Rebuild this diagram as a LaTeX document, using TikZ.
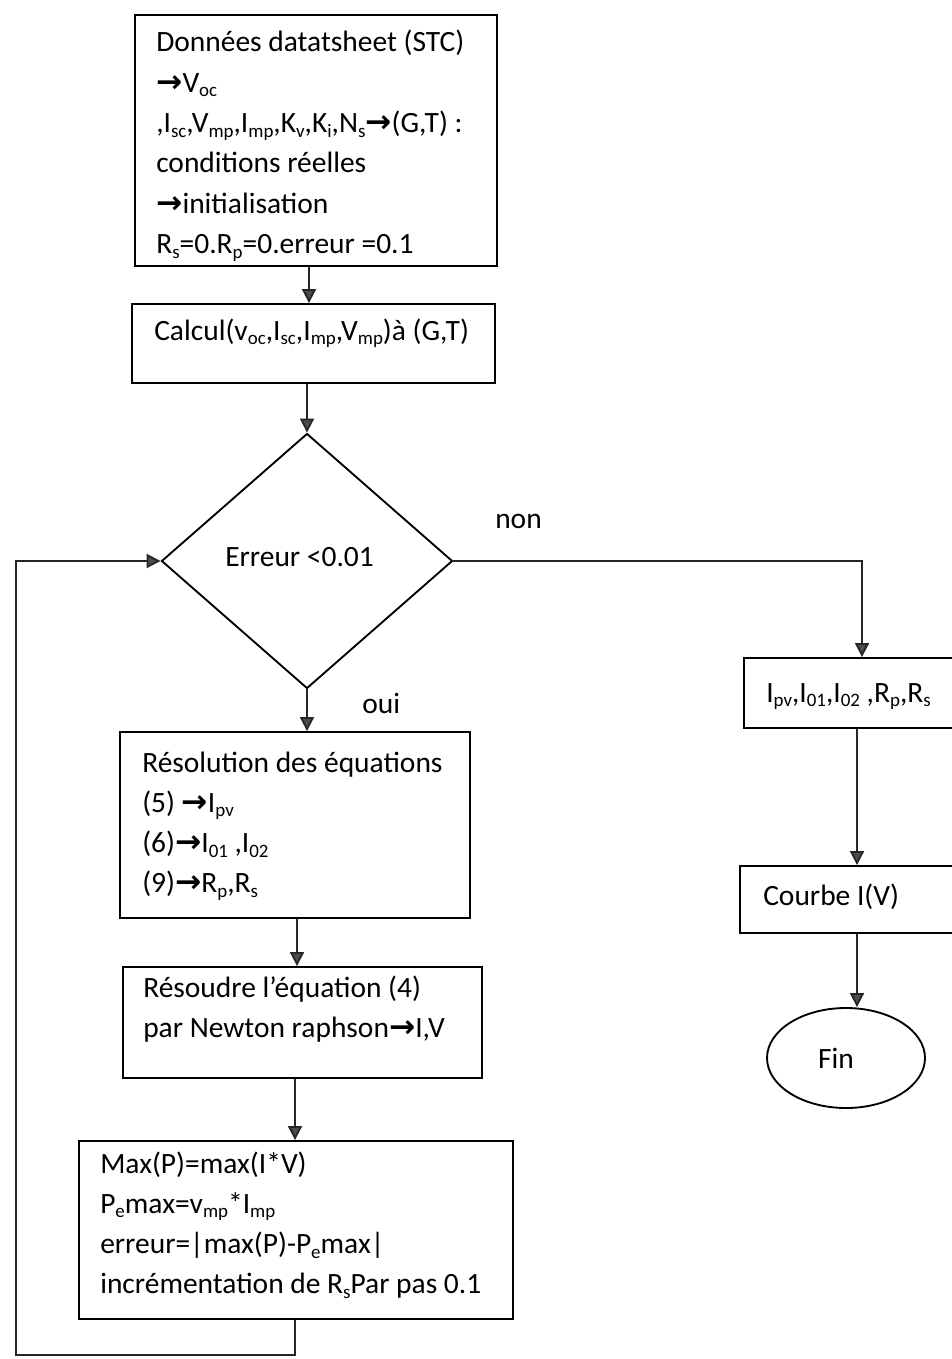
\documentclass[tikz,border=0pt]{standalone}
\usepackage{fontspec}
\setmainfont{Carlito}
\newfontfamily\arrowfont{DejaVu Sans}
\usetikzlibrary{shapes.geometric,arrows.meta}
\newcommand\sbs[1]{\raisebox{-0.16em}{\fontsize{14.2}{14.2}\selectfont #1}}
\newcommand\rarr{{\arrowfont\bfseries\fontsize{23.5}{23.5}\selectfont →}}
\newcommand\fsz{\fontsize{22.1}{30.2}\selectfont}
\begin{document}
\begin{tikzpicture}[x=0.75pt,y=-0.75pt,
  box/.style={draw=black,line width=1.4pt,rectangle,inner sep=0pt},
  txt/.style={anchor=base west,inner sep=0pt,text width=420pt,align=flush left,font=\fsz},
  lbl/.style={anchor=base west,inner sep=0pt,font=\fsz},
  con/.style={draw=black!85,line width=1.4pt,-{Triangle[width=10.5pt,length=10.5pt,fill=black!70]}}]
\useasboundingbox (0,0) rectangle (952,1359);
\clip (0,0) rectangle (952,1359);
% boxes
\node[box,minimum width=271.5pt,minimum height=188.25pt] (top) at (316,140.5) {};
\node[box,minimum width=272.25pt,minimum height=59.25pt] (calc) at (313.5,343.5) {};
\node[draw=black,line width=1.4pt,diamond,inner sep=0pt,minimum width=218.25pt,minimum height=191.25pt] (dia) at (307,561) {};
\node[box,minimum width=177pt,minimum height=52.5pt] (par) at (862,693) {};
\node[box,minimum width=180pt,minimum height=50.25pt] (cb) at (860,899.5) {};
\node[draw=black,line width=1.4pt,ellipse,inner sep=0pt,minimum width=118.5pt,minimum height=75pt] (fin) at (846,1058) {};
\node[box,minimum width=262.5pt,minimum height=139.5pt] (res) at (295,825) {};
\node[box,minimum width=269.25pt,minimum height=83.25pt] (rsd) at (302.5,1022.5) {};
\node[box,minimum width=325.5pt,minimum height=133.5pt] (mx) at (296,1230) {};
% texts
\node[txt] (ttop) at (156,52) {Données datatsheet (STC)\\
\rarr V\sbs{oc}\\
,I\sbs{sc},V\sbs{mp},I\sbs{mp},K\sbs{v},K\sbs{i},N\sbs{s}\rarr(G,T) :\\
conditions réelles\\
\rarr initialisation\\
R\sbs{s}=0.R\sbs{p}=0.erreur =0.1};
\node[lbl] (tcalc) at (154,340) {Calcul(v\sbs{oc},I\sbs{sc},I\sbs{mp},V\sbs{mp})à (G,T)};
\node[lbl] (tdia) at (225,566) {Erreur <0.01};
\node[lbl] (tnon) at (495,528) {non};
\node[lbl] (toui) at (362,713) {oui};
\node[lbl] (tpar) at (766,702) {I\sbs{pv},I\sbs{01},I\sbs{02} ,R\sbs{p},R\sbs{s}};
\node[lbl] (tcb) at (763,905) {Courbe I(V)};
\node[lbl,anchor=base] (tfin) at (836,1068) {Fin};
\node[txt] (tres) at (142,772) {Résolution des équations\\
(5) \rarr I\sbs{pv}\\
(6)\rarr I\sbs{01} ,I\sbs{02}\\
(9)\rarr R\sbs{p},R\sbs{s}};
\node[txt] (trsd) at (143,997) {Résoudre l’équation (4)\\
par Newton raphson\rarr I,V};
\node[txt] (tmx) at (100,1173) {Max(P)=max(I*V)\\
P\sbs{e}max=v\sbs{mp}*I\sbs{mp}\\
erreur=|max(P)-P\sbs{e}max|\\
incrémentation de R\sbs{s}Par pas 0.1};
% connectors
\coordinate (c1) at (309,0);
\coordinate (c3) at (857,0);
\coordinate (c4) at (297,0);
\coordinate (c5) at (295,0);
\coordinate (lb) at (16,1355);
\draw[con] (top.south -| c1) -- (calc.north -| c1);
\draw[con] (calc.south -| dia.north) -- (dia.north);
\draw[con] (dia.east) -| (par.north);
\draw[con] (par.south -| c3) -- (cb.north -| c3);
\draw[con] (cb.south -| c3) -- (c3 |- fin.north);
\draw[con] (dia.south) -- (dia.south |- res.north);
\draw[con] (res.south -| c4) -- (rsd.north -| c4);
\draw[con] (rsd.south -| c5) -- (mx.north -| c5);
\draw[con] (mx.south -| c5) |- (lb) |- (dia.west);
\end{tikzpicture}
\end{document}
